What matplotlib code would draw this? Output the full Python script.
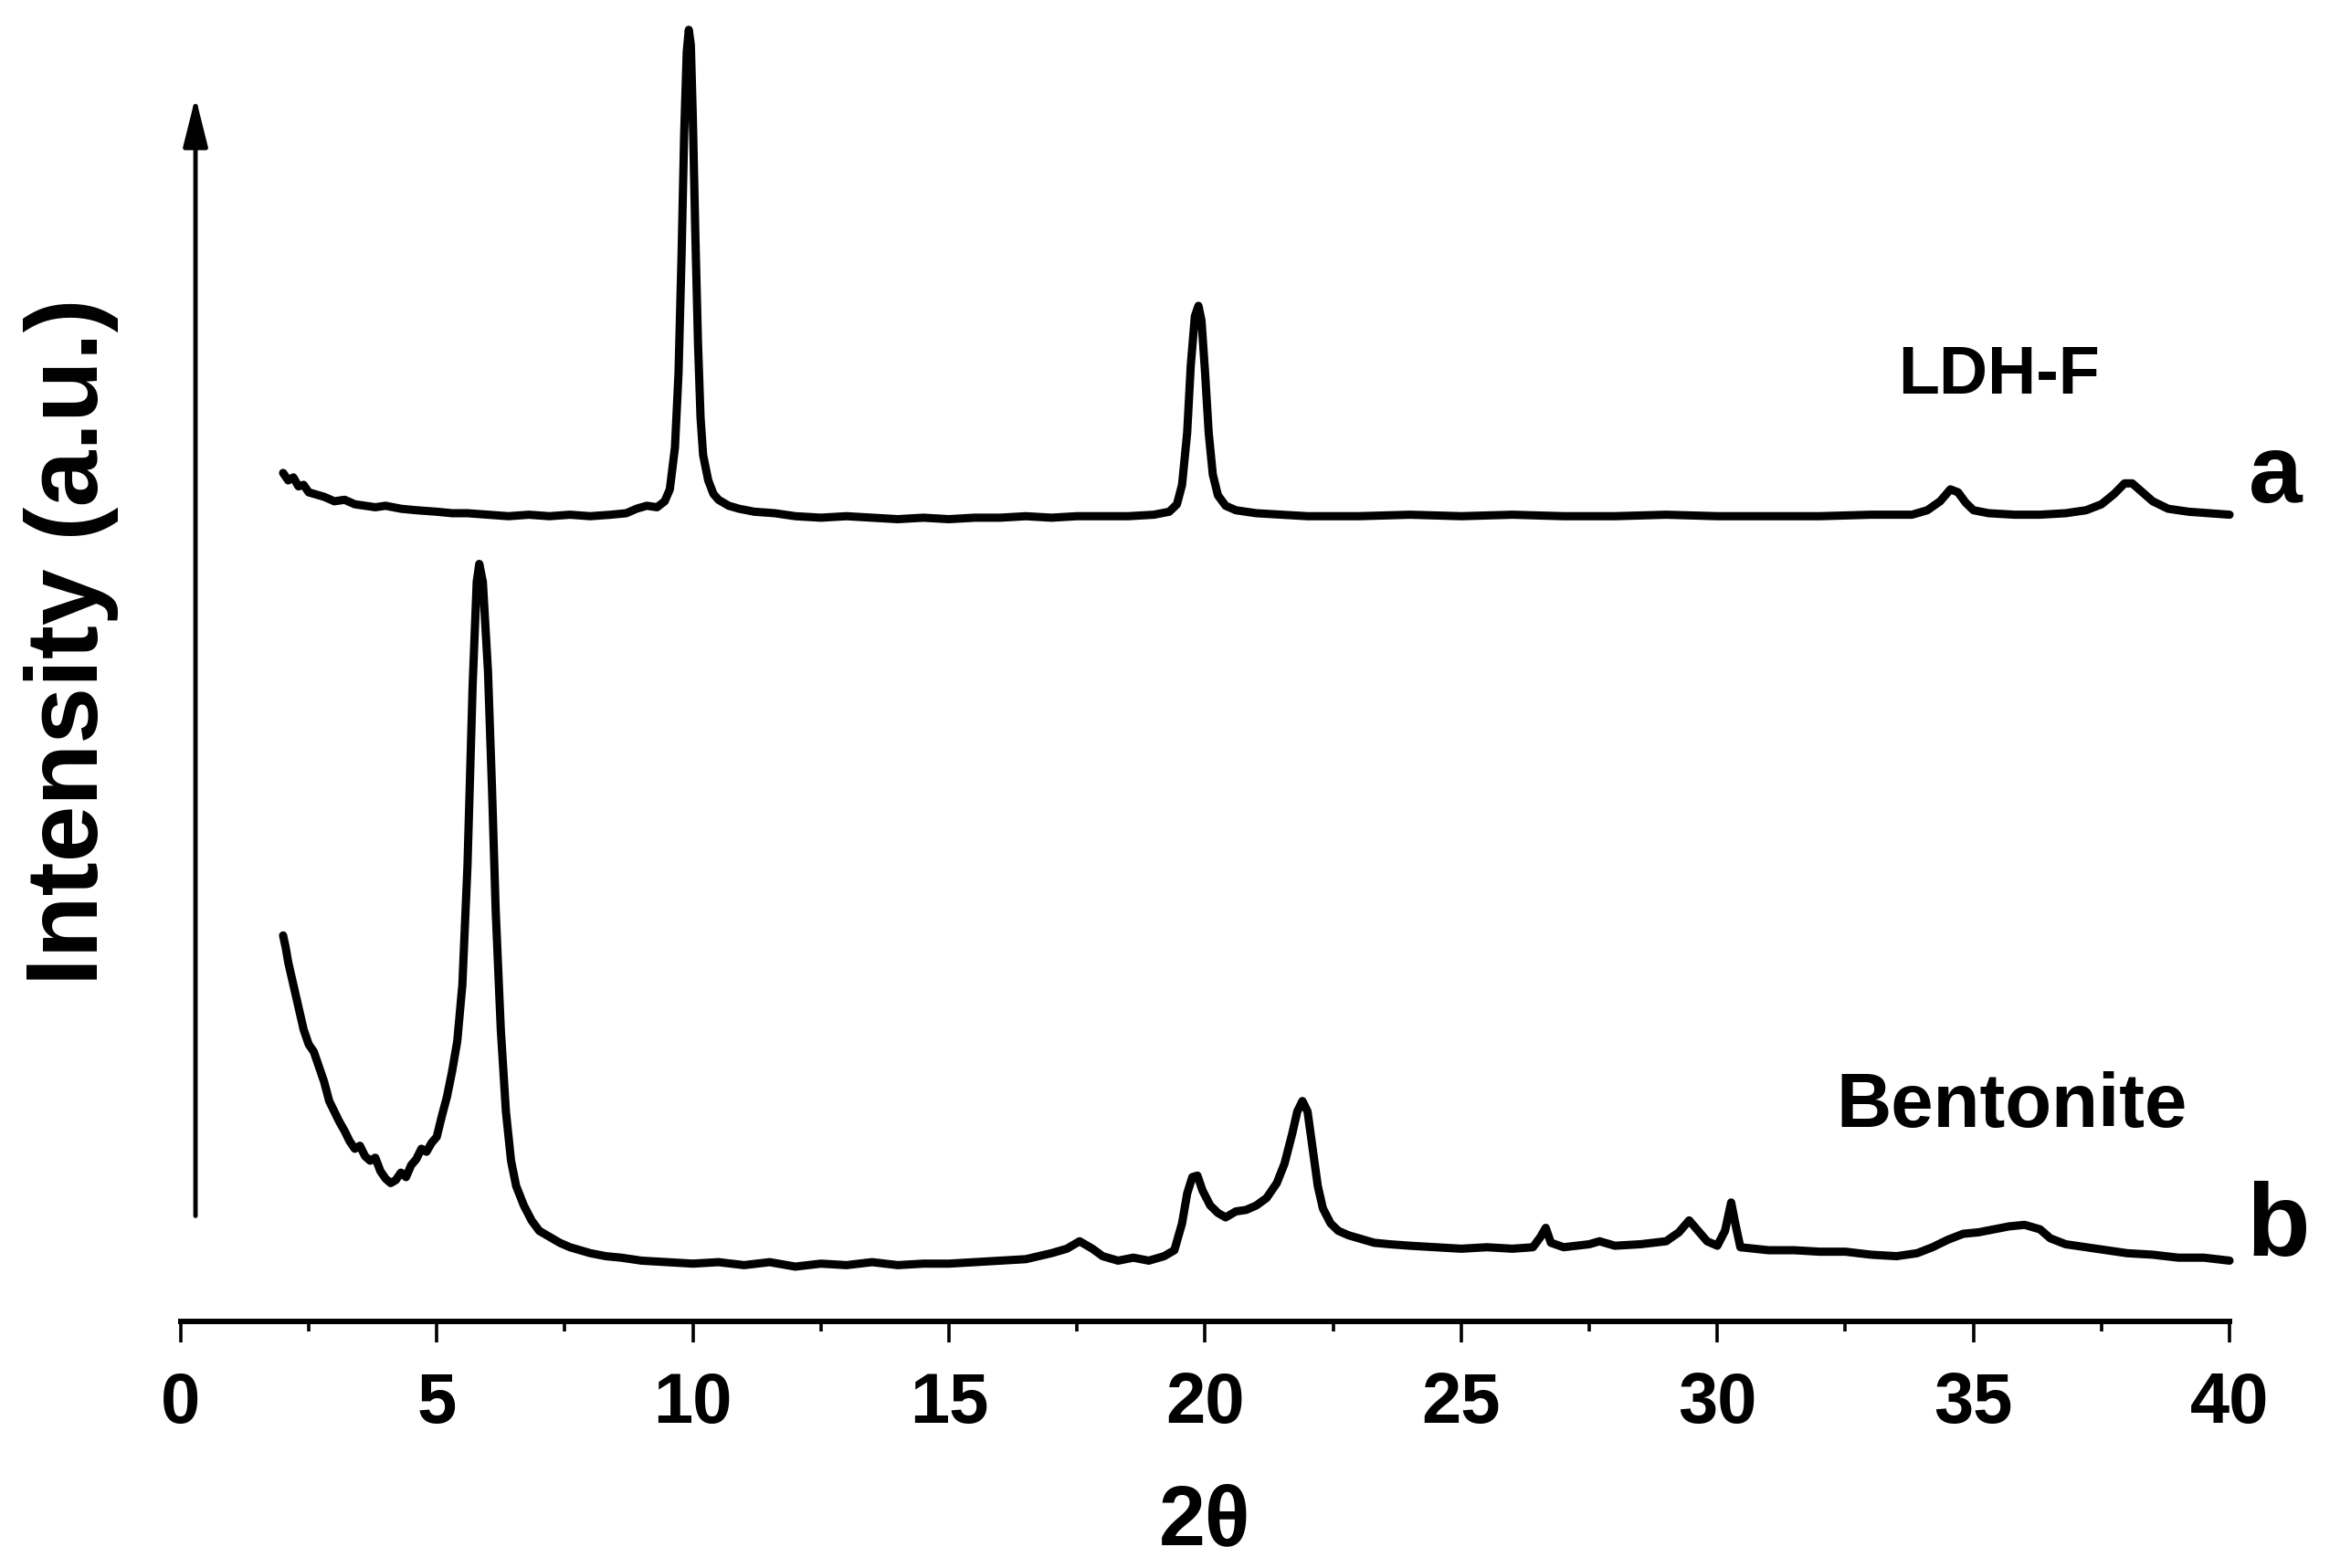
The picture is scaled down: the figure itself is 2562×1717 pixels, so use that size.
import numpy as np
import matplotlib
matplotlib.use("Agg")
from matplotlib import pyplot as plt

plt.rcParams['font.family'] = ['Liberation Sans', 'DejaVu Sans']
plt.rcParams['font.weight'] = 'bold'

# LDH-F pattern (curve a), 2theta and counts
two_theta_a = [2.0, 2.1, 2.2, 2.3, 2.4, 2.5, 2.6, 2.8, 3.0, 3.2,
               3.4, 3.6, 3.8, 4.0, 4.3, 4.6, 5.0, 5.3, 5.6, 6.0,
               6.4, 6.8, 7.2, 7.6, 8.0, 8.4, 8.7, 8.9, 9.1, 9.3,
               9.45, 9.55, 9.65, 9.72, 9.78, 9.83, 9.88, 9.92, 9.96, 10.0,
               10.05, 10.1, 10.15, 10.2, 10.3, 10.4, 10.5, 10.7, 10.9, 11.2,
               11.6, 12.0, 12.5, 13.0, 13.5, 14.0, 14.5, 15.0, 15.5, 16.0,
               16.5, 17.0, 17.5, 18.0, 18.5, 19.0, 19.3, 19.45, 19.55, 19.65,
               19.72, 19.8, 19.87, 19.93, 20.0, 20.07, 20.15, 20.25, 20.4, 20.6,
               21.0, 21.5, 22.0, 23.0, 24.0, 25.0, 26.0, 27.0, 28.0, 29.0,
               30.0, 31.0, 32.0, 33.0, 33.8, 34.1, 34.35, 34.55, 34.7, 34.85,
               35.0, 35.3, 35.8, 36.3, 36.8, 37.2, 37.5, 37.75, 37.95, 38.1,
               38.3, 38.5, 38.8, 39.2, 39.6, 40.0]
counts_a = [69, 64, 66, 60, 61, 56, 55, 53, 50, 51,
            48, 47, 46, 47, 45, 44, 43, 42, 42, 41,
            40, 41, 40, 41, 40, 41, 42, 45, 47, 46,
            50, 58, 86, 136, 216, 296, 351, 366, 356, 306,
            226, 156, 106, 81, 64, 55, 51, 47, 45, 43,
            42, 40, 39, 40, 39, 38, 39, 38, 39, 39,
            40, 39, 40, 40, 40, 41, 43, 48, 61, 96,
            141, 174, 181, 171, 136, 96, 68, 54, 47, 44,
            42, 41, 40, 40, 41, 40, 41, 40, 40, 41,
            40, 40, 40, 41, 41, 44, 50, 58, 56, 49,
            44, 42, 41, 41, 42, 44, 48, 55, 62, 62,
            56, 50, 45, 43, 42, 41]

# Bentonite pattern (curve b)
two_theta_b = [2.0, 2.05, 2.1, 2.2, 2.3, 2.4, 2.5, 2.6, 2.7, 2.8,
               2.9, 3.0, 3.1, 3.2, 3.3, 3.4, 3.5, 3.6, 3.7, 3.8,
               3.9, 4.0, 4.1, 4.2, 4.3, 4.4, 4.5, 4.6, 4.7, 4.8,
               4.9, 5.0, 5.1, 5.2, 5.3, 5.4, 5.5, 5.6, 5.7, 5.78,
               5.83, 5.9, 6.0, 6.08, 6.15, 6.25, 6.35, 6.45, 6.55, 6.7,
               6.85, 7.0, 7.2, 7.4, 7.6, 7.8, 8.0, 8.3, 8.6, 9.0,
               9.5, 10.0, 10.5, 11.0, 11.5, 12.0, 12.5, 13.0, 13.5, 14.0,
               14.5, 15.0, 15.5, 16.0, 16.5, 17.0, 17.3, 17.55, 17.8, 18.0,
               18.3, 18.6, 18.9, 19.2, 19.4, 19.55, 19.65, 19.75, 19.85, 19.95,
               20.1, 20.25, 20.4, 20.6, 20.8, 21.0, 21.2, 21.4, 21.55, 21.7,
               21.8, 21.9, 22.0, 22.1, 22.2, 22.3, 22.45, 22.6, 22.8, 23.0,
               23.3, 23.6, 24.0, 24.5, 25.0, 25.5, 26.0, 26.4, 26.55, 26.65,
               26.75, 27.0, 27.5, 27.7, 28.0, 28.5, 29.0, 29.25, 29.45, 29.6,
               29.8, 30.0, 30.15, 30.27, 30.35, 30.45, 31.0, 31.5, 32.0, 32.5,
               33.0, 33.5, 33.9, 34.2, 34.5, 34.8, 35.1, 35.4, 35.7, 36.0,
               36.3, 36.5, 36.8, 37.2, 37.6, 38.0, 38.5, 39.0, 39.5, 40.0]
counts_b = [259, 251, 241, 226, 211, 196, 186, 181, 171, 161,
            148, 141, 134, 128, 121, 116, 118, 111, 108, 110,
            101, 96, 93, 95, 100, 97, 105, 109, 116, 114,
            120, 124, 138, 151, 168, 188, 226, 306, 426, 496,
            508, 496, 436, 356, 276, 196, 141, 108, 91, 78,
            68, 61, 57, 53, 50, 48, 46, 44, 43, 41,
            40, 39, 40, 38, 40, 37, 39, 38, 40, 38,
            39, 39, 40, 41, 42, 46, 49, 54, 49, 44,
            41, 43, 41, 44, 48, 66, 86, 97, 98, 88,
            78, 73, 70, 74, 75, 78, 83, 93, 106, 126,
            141, 148, 141, 116, 91, 76, 66, 61, 58, 56,
            53, 52, 51, 50, 49, 50, 49, 50, 57, 63,
            53, 50, 52, 54, 51, 52, 54, 60, 68, 62,
            54, 51, 61, 80, 66, 50, 48, 48, 47, 47,
            45, 44, 46, 50, 55, 59, 60, 62, 64, 65,
            62, 56, 52, 50, 48, 46, 45, 43, 43, 41]

stack_offset = 500

labels = ['LDH-F', 'Bentonite']
letters = ['a', 'b']

x_ticks = [0, 5, 10, 15, 20, 25, 30, 35, 40]


fig = plt.figure(figsize=(25.62, 17.17), dpi=100)
ax = fig.add_axes([0.0772, 0.157, 0.8756, 0.843])

# plot the two diffraction patterns, a is stacked above b
ax.plot(np.array(two_theta_a), np.array(counts_a) + stack_offset, color='k', lw=6.5,
        solid_joinstyle='round', solid_capstyle='round', clip_on=False)
ax.plot(two_theta_b, counts_b, color='k', lw=6.5, solid_joinstyle='round',
        solid_capstyle='round', clip_on=False)

ax.set_xlim(0, 40)
ax.set_ylim(0, 886)

# sample names and curve letters
ax.text(35.5, 634, labels[0], fontsize=53, fontweight='bold', ha='center', va='center')
ax.text(35.75, 144, labels[1], fontsize=60, fontweight='bold', ha='center', va='center')
ax.text(40.9, 566, letters[0], fontsize=76, fontweight='bold', ha='center', va='center')
ax.text(40.95, 62, letters[1], fontsize=82, fontweight='bold', ha='center', va='center')

# intensity arrow instead of a y axis
ax.annotate('', xy=(0.29, 821), xytext=(0.29, 71),
            arrowprops=dict(arrowstyle='-|>,head_length=0.6,head_width=0.15',
                            lw=3.5, color='k', mutation_scale=55,
                            shrinkA=0, shrinkB=0))

ax.spines['top'].set_visible(False)
ax.spines['right'].set_visible(False)
ax.spines['left'].set_visible(False)
ax.spines['bottom'].set_linewidth(4.3)
ax.set_yticks([])

ax.set_xticks(x_ticks)
ax.set_xticks(np.arange(2.5, 40, 5), minor=True)
ax.tick_params(axis='x', which='major', length=16.5, width=2.6, pad=22, labelsize=56)
ax.tick_params(axis='x', which='minor', length=8, width=2.6)
for t in ax.get_xticklabels():
    t.set_fontweight('bold')

ax.set_xlabel('2θ', fontsize=66, fontweight='bold', labelpad=36)
fig.text(78 / 2562, 0.5906, 'Intensity (a.u.)', rotation=90, fontsize=80,
         fontweight='bold', ha='center', va='center')

fig.savefig('out.png', dpi=100)
